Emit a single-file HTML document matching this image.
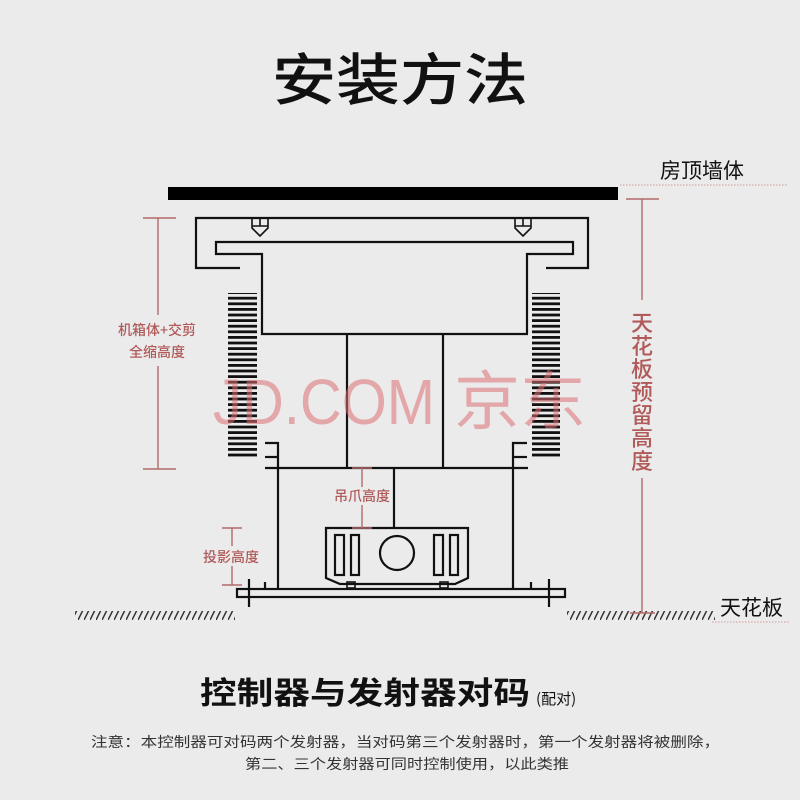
<!DOCTYPE html>
<html><head><meta charset="utf-8"><style>
html,body{margin:0;padding:0;background:#ebebeb;}
svg{display:block;font-family:"Liberation Sans","Noto Sans CJK SC",sans-serif;}
</style></head><body>
<svg width="800" height="800" viewBox="0 0 800 800" xmlns="http://www.w3.org/2000/svg">
<defs>
<pattern id="hatch" width="6" height="10" patternUnits="userSpaceOnUse">
<line x1="0" y1="10" x2="5" y2="0" stroke="#333" stroke-width="1.5"/>
</pattern>
<pattern id="str" width="40" height="5.6" patternUnits="userSpaceOnUse">
<rect x="0" y="0" width="40" height="2.8" fill="#111"/>
</pattern>
</defs>
<rect width="800" height="800" fill="#ebebeb"/>
<text x="272" y="100" font-size="56" font-weight="500" fill="#111" font-family="Noto Sans CJK SC,sans-serif" textLength="256" lengthAdjust="spacingAndGlyphs">安装方法</text>

<rect x="168" y="187" width="450" height="13" fill="#000"/>
<line x1="620" y1="185" x2="788" y2="185" stroke="#d49a9a" stroke-width="1" stroke-dasharray="1.5,1.5"/>
<text x="660" y="178" font-size="21" fill="#111" font-family="Noto Sans CJK SC,sans-serif">房顶墙体</text>

<g fill="none" stroke="#111" stroke-width="2.2">
<polyline points="240,268 196,268 196,218 588,218 588,268 546,268"/>
<polyline points="528,334 527,334 527,254 573,254 573,242 216,242 216,254 262,254 262,334 528,334"/>
<line x1="347" y1="334" x2="347" y2="468"/>
<line x1="443" y1="334" x2="443" y2="468"/>
<line x1="265" y1="468" x2="528" y2="468"/>
<polyline points="265,443 278,443 278,588"/>
<line x1="265" y1="457" x2="278" y2="457"/>
<polyline points="527,443 513,443 513,588"/>
<line x1="527" y1="457" x2="513" y2="457"/>
<line x1="394" y1="468" x2="394" y2="528"/>
<path d="M326,528 H468 V578 L455,584 H340 L326,578 Z"/>
<rect x="335" y="535" width="9" height="40"/>
<rect x="351" y="535" width="8" height="40"/>
<rect x="434" y="535" width="9" height="40"/>
<rect x="450" y="535" width="8" height="40"/>
<circle cx="397" cy="553" r="17"/>
<rect x="347" y="582" width="8" height="6" stroke-width="1.6"/>
<rect x="440" y="582" width="8" height="6" stroke-width="1.6"/>
<rect x="237" y="589" width="328" height="8"/>
<line x1="249" y1="579" x2="249" y2="607"/>
<line x1="265" y1="582" x2="265" y2="589"/>
<line x1="549" y1="579" x2="549" y2="607"/>
<line x1="531" y1="582" x2="531" y2="589"/>
</g>
<g fill="none" stroke="#111" stroke-width="1.6">
<path d="M252,218 V228 L260,236 L268,228 V218 M252,226 H268 M260,218 V226"/>
<path d="M515,218 V228 L523,236 L531,228 V218 M515,226 H531 M523,218 V226"/>
</g>
<rect x="228" y="293" width="29" height="166" fill="url(#str)"/>
<rect x="532" y="293" width="28" height="166" fill="url(#str)"/>

<rect x="75" y="611" width="160" height="9" fill="url(#hatch)"/>
<rect x="567" y="611" width="148" height="9" fill="url(#hatch)"/>

<g stroke="#b36a6a" stroke-width="1.4" fill="none">
<line x1="143" y1="218" x2="176" y2="218"/>
<line x1="143" y1="469" x2="176" y2="469"/>
<line x1="158" y1="218" x2="158" y2="315"/>
<line x1="158" y1="366" x2="158" y2="469"/>
<line x1="626" y1="199" x2="659" y2="199"/>
<line x1="642" y1="199" x2="642" y2="300"/>
<line x1="642" y1="478" x2="642" y2="613"/>
<line x1="630" y1="613" x2="655" y2="613"/>
<line x1="352" y1="468" x2="372" y2="468"/>
<line x1="362" y1="468" x2="362" y2="487"/>
<line x1="362" y1="505" x2="362" y2="528"/>
<line x1="352" y1="528" x2="372" y2="528"/>
<line x1="222" y1="528" x2="242" y2="528"/>
<line x1="232" y1="528" x2="232" y2="546"/>
<line x1="232" y1="566" x2="232" y2="585"/>
<line x1="222" y1="585" x2="242" y2="585"/>
</g>
<line x1="712" y1="622" x2="790" y2="622" stroke="#d49a9a" stroke-width="1" stroke-dasharray="1.5,1.5"/>

<g fill="#b05a5a" font-size="14" font-weight="500" font-family="Noto Sans CJK SC,sans-serif" text-anchor="middle">
<text x="157" y="335">机箱体+交剪</text>
<text x="157" y="357">全缩高度</text>
<text x="362" y="501">吊爪高度</text>
<text x="231" y="562">投影高度</text>
</g>
<g fill="#b05a5a" font-size="22" font-weight="500" font-family="Noto Sans CJK SC,sans-serif" text-anchor="middle">
<text x="642" y="331">天</text><text x="642" y="354">花</text><text x="642" y="377">板</text><text x="642" y="400">预</text><text x="642" y="423">留</text><text x="642" y="446">高</text><text x="642" y="469">度</text>
</g>

<text x="213" y="424" font-size="64" fill="rgba(220,110,115,0.55)" font-family="Liberation Sans,sans-serif" textLength="222" lengthAdjust="spacingAndGlyphs">JD.COM</text>
<text x="454" y="424" font-size="64" fill="rgba(220,110,115,0.55)" font-family="Noto Sans CJK SC,sans-serif" textLength="132" lengthAdjust="spacingAndGlyphs">京东</text>

<text x="720" y="615" font-size="21" fill="#111" font-family="Noto Sans CJK SC,sans-serif">天花板</text>

<text x="200" y="704" font-size="31" font-weight="bold" fill="#111" font-family="Noto Sans CJK SC,sans-serif" textLength="330" lengthAdjust="spacingAndGlyphs">控制器与发射器对码</text>
<text x="536" y="704" font-size="15" fill="#111" font-family="Noto Sans CJK SC,sans-serif">(配对)</text>
<text x="91" y="747" font-size="14" fill="#333" font-family="Noto Sans CJK SC,sans-serif" textLength="629" lengthAdjust="spacingAndGlyphs">注意：本控制器可对码两个发射器，当对码第三个发射器时，第一个发射器将被删除，</text>
<text x="245" y="769" font-size="14" fill="#333" font-family="Noto Sans CJK SC,sans-serif" textLength="324" lengthAdjust="spacingAndGlyphs">第二、三个发射器可同时控制使用，以此类推</text>
</svg>
</body></html>
